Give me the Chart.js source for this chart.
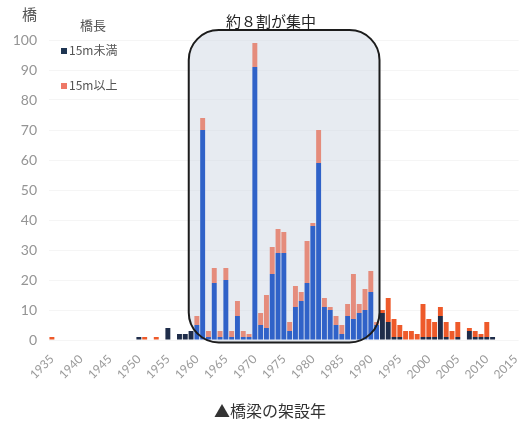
<!DOCTYPE html>
<html lang="ja">
<head>
<meta charset="utf-8">
<script src="https://cdn.jsdelivr.net/npm/chart.js@4.4.1/dist/chart.umd.min.js"></script>
<style>
  html, body { margin: 0; padding: 0; background: #fff; overflow: hidden; }
  #wrap { position: relative; width: 519px; height: 428px; overflow: hidden; }
  #chart { position: absolute; left: 0; top: 0; }
  .txt { position: absolute; white-space: nowrap; font-family: "Noto Sans CJK JP", "Noto Sans", sans-serif; line-height: 1; }
  .sw { display: inline-block; width: 6px; height: 6px; margin-right: 2px; vertical-align: 1px; }
</style>
</head>
<body>
<div id="wrap">
  <canvas id="chart" width="530" height="428"></canvas>
  <div class="txt" style="left:22px;top:6px;font-size:15px;color:#555;">橋</div>
  <div class="txt" style="left:80px;top:18px;font-size:13px;color:#555;">橋長</div>
  <div class="txt" style="left:61px;top:44px;font-size:12px;color:#555;"><span class="sw" style="background:#1f3552"></span>15m未満</div>
  <div class="txt" style="left:61px;top:79px;font-size:12px;color:#555;"><span class="sw" style="background:#ee7766"></span>15m以上</div>
  <div class="txt" style="left:226px;top:13px;font-size:15px;color:#222;">約８割が集中</div>
  <div class="txt" style="left:214px;top:402px;font-size:16px;color:#333;">▲橋梁の架設年</div>
</div>
<script>
const YEARS = [];
for (let y = 1935; y <= 2015; y++) YEARS.push(String(y));

// 15m未満 (bridges shorter than 15 m), 1935..2015
const UNDER_15 = [
  0, 0, 0, 0, 0, 0, 0, 0, 0, 0,   // 1935-1944
  0, 0, 0, 0, 0, 1, 0, 0, 0, 0,   // 1945-1954
  4, 0, 2, 2, 3, 5, 70, 1, 19, 1, // 1955-1964
  20, 1, 8, 1, 1, 91, 5, 4, 22, 29, // 1965-1974
  29, 3, 11, 13, 19, 38, 59, 11, 10, 5, // 1975-1984
  2, 8, 7, 9, 10, 16, 5, 9, 6, 1, // 1985-1994
  1, 0, 0, 0, 1, 1, 1, 8, 1, 0,   // 1995-2004
  1, 0, 3, 1, 1, 1, 1, 0, 0, 0,   // 2005-2014
  0                               // 2015
];

// 15m以上 (15 m or longer), 1935..2015
const OVER_15 = [
  1, 0, 0, 0, 0, 0, 0, 0, 0, 0,
  0, 0, 0, 0, 0, 0, 1, 0, 1, 0,
  0, 0, 0, 0, 0, 3, 4, 2, 5, 2,
  4, 2, 5, 2, 1, 8, 4, 11, 9, 8,
  7, 3, 7, 3, 14, 1, 11, 3, 1, 3,
  3, 4, 15, 3, 7, 7, 1, 1, 8, 6,
  4, 3, 3, 2, 11, 6, 5, 3, 5, 3,
  5, 0, 1, 2, 1, 5, 0, 0, 0, 0,
  0
];

const Y_TICKS = [0, 10, 20, 30, 40, 50, 60, 70, 80, 90, 100];

// the rounded "約８割が集中" frame, in year / value units
const BOX_FROM = 1958.6, BOX_TO = 1991.5;
const BOX_TOP = 103.3, BOX_BOTTOM = -0.8;

const inBox = (i) => {
  const yr = 1935 + i;
  return yr >= 1960 && yr <= 1991;
};
const colorsFor = (inside, outside) => YEARS.map((_, i) => (inBox(i) ? inside : outside));

function boxPath(ctx, chart) {
  const xs = chart.scales.x, ys = chart.scales.y;
  const l = xs.getPixelForValue(BOX_FROM - 1935);
  const r = xs.getPixelForValue(BOX_TO - 1935);
  const t = ys.getPixelForValue(BOX_TOP);
  const b = ys.getPixelForValue(BOX_BOTTOM);
  const rad = 30;
  ctx.beginPath();
  ctx.moveTo(l + rad, t);
  ctx.lineTo(r - rad, t);
  ctx.arcTo(r, t, r, t + rad, rad);
  ctx.lineTo(r, b - rad);
  ctx.arcTo(r, b, r - rad, b, rad);
  ctx.lineTo(l + rad, b);
  ctx.arcTo(l, b, l, b - rad, rad);
  ctx.lineTo(l, t + rad);
  ctx.arcTo(l, t, l + rad, t, rad);
  ctx.closePath();
}

const highlightBox = {
  id: "highlightBox",
  beforeDatasetsDraw(chart) {
    const ctx = chart.ctx;
    ctx.save();
    boxPath(ctx, chart);
    ctx.fillStyle = "rgba(208, 216, 228, 0.5)";
    ctx.fill();
    ctx.restore();
  },
  afterDatasetsDraw(chart) {
    const ctx = chart.ctx;
    ctx.save();
    boxPath(ctx, chart);
    ctx.lineWidth = 2;
    ctx.strokeStyle = "#1c1c1c";
    ctx.stroke();
    ctx.restore();
  },
};

new Chart(document.getElementById("chart"), {
  type: "bar",
  data: {
    labels: YEARS,
    datasets: [
      {
        label: "15m未満",
        data: UNDER_15,
        backgroundColor: colorsFor("#3062c8", "#1f2d4a"),
        barPercentage: 0.85,
        categoryPercentage: 1,
      },
      {
        label: "15m以上",
        data: OVER_15,
        backgroundColor: colorsFor("#e58c7c", "#ee5a2a"),
        barPercentage: 0.85,
        categoryPercentage: 1,
      },
    ],
  },
  options: {
    responsive: false,
    animation: false,
    devicePixelRatio: 1,
    layout: { padding: { top: 40, right: 7, bottom: 0, left: 0 } },
    plugins: { legend: { display: false }, tooltip: { enabled: false } },
    scales: {
      x: {
        stacked: true,
        grid: { display: false },
        border: { display: false },
        afterFit: (s) => { s.height = 88; },
        ticks: {
          autoSkip: false,
          minRotation: 45,
          maxRotation: 45,
          padding: 4,
          color: "#9a9a9a",
          font: { family: "Lato", size: 12 },
          callback: (v, i) => (Number(YEARS[i]) % 5 === 0 ? YEARS[i] : ""),
        },
      },
      y: {
        stacked: true,
        min: 0,
        max: 100,
        afterFit: (s) => { s.width = 49; },
        afterBuildTicks: (s) => { s.ticks = Y_TICKS.map((v) => ({ value: v })); },
        grid: { color: "rgba(0,0,0,0.04)", drawTicks: false },
        border: { display: false },
        ticks: {
          padding: 12,
          color: "#949494",
          font: { family: "Lato", size: 14 },
        },
      },
    },
  },
  plugins: [highlightBox],
});
</script>
</body>
</html>
